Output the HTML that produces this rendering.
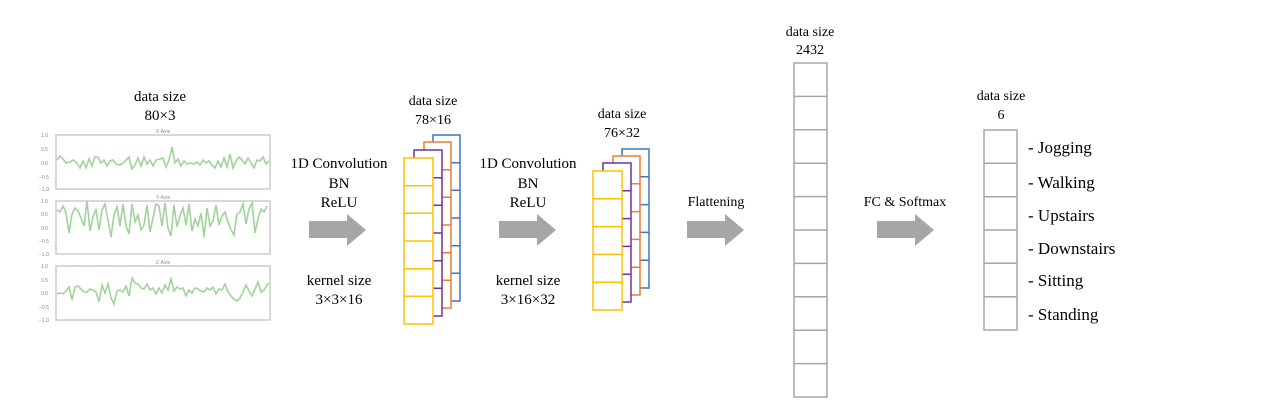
<!DOCTYPE html>
<html><head><meta charset="utf-8"><style>
html,body{margin:0;padding:0;background:#fff;}
svg{display:block;}
text{font-family:"Liberation Serif",serif;font-size:15px;fill:#000;}
.s{font-size:5px;fill:#888;font-family:"Liberation Sans",sans-serif;}
</style></head><body>
<svg width="1280" height="420" viewBox="0 0 1280 420" xmlns="http://www.w3.org/2000/svg">
<!-- input -->
<text x="160" y="101" text-anchor="middle">data size</text>
<text x="160" y="120" text-anchor="middle">80×3</text>
<g fill="none" stroke="#ccc" stroke-width="1.5">
<rect x="56" y="135" width="214" height="54"/>
<rect x="56" y="201" width="214" height="53"/>
<rect x="56" y="266" width="214" height="54"/>
</g>
<g class="s">
<text class="s" x="163" y="133" text-anchor="middle">X-Axis</text>
<text class="s" x="163" y="199" text-anchor="middle">Y-Axis</text>
<text class="s" x="163" y="264" text-anchor="middle">Z-Axis</text>
<text class="s" x="41" y="137">1.0</text><text class="s" x="41" y="151">0.5</text><text class="s" x="41" y="165">0.0</text><text class="s" x="39" y="179">−0.5</text><text class="s" x="39" y="191">−1.0</text>
<text class="s" x="41" y="203">1.0</text><text class="s" x="41" y="216">0.5</text><text class="s" x="41" y="230">0.0</text><text class="s" x="39" y="243">−0.5</text><text class="s" x="39" y="256">−1.0</text>
<text class="s" x="41" y="268">1.0</text><text class="s" x="41" y="282">0.5</text><text class="s" x="41" y="295">0.0</text><text class="s" x="39" y="309">−0.5</text><text class="s" x="39" y="322">−1.0</text>
</g>
<g fill="none" stroke="#9fd49a" stroke-width="1.6">
<polyline points="57,160 60,156 63,159 66,163 70,162 73,160 77,163 80,168 83,161 86,168 89,159 92,166 95,157 98,157 101,163 104,160 107,166 110,161 113,160 116,164 120,165 123,163 126,160 129,157 132,169 135,165 138,158 141,166 144,157 147,164 150,160 153,166 156,160 160,159 163,158 166,167 169,160 172,147 175,163 178,159 181,166 184,161 187,164 190,163 194,164 197,162 200,165 203,160 206,163 209,161 212,165 215,168 218,161 221,167 224,158 227,167 230,154 233,168 236,161 239,157 242,160 245,164 248,158 251,163 254,168 257,160 260,161 263,157 266,164 269,161"/>
<polyline points="57,210 60,212 63,206 66,213 69,233 72,214 75,208 78,211 81,218 84,226 87,201 90,231 93,217 96,209 99,230 102,210 105,204 108,220 111,237 114,215 117,207 120,226 123,204 126,226 129,234 132,204 135,222 138,215 141,230 144,225 147,205 150,232 153,218 156,204 159,206 162,226 165,203 168,228 171,236 174,205 177,227 180,216 183,208 186,225 189,204 192,231 195,219 198,226 201,213 204,237 207,208 210,226 213,221 216,205 219,225 222,216 225,212 228,222 231,230 234,235 237,214 240,212 243,204 246,224 249,209 252,203 255,233 258,219 261,209 264,212 267,206"/>
<polyline points="57,294 60,293 63,294 66,291 69,287 72,300 75,287 78,286 81,289 84,292 87,292 90,289 93,290 96,292 99,302 102,285 105,293 108,284 111,298 114,304 117,291 120,290 123,292 126,286 129,296 132,278 135,283 138,284 141,288 144,289 147,284 150,290 153,288 156,294 159,288 162,293 165,285 168,290 171,279 174,291 177,287 180,289 183,288 186,296 189,290 192,293 195,288 198,289 201,291 204,292 207,288 210,290 213,287 216,294 219,289 222,290 225,284 228,292 231,296 234,299 237,301 240,298 243,292 246,285 249,291 252,296 255,289 258,282 261,292 264,290 267,285 269,283"/>
</g>
<!-- arrows -->
<g fill="#a6a6a6">
<polygon points="309,221 347,221 347,214 366,230 347,246 347,238 309,238"/>
<polygon points="499,221 537,221 537,214 556,230 537,246 537,238 499,238"/>
<polygon points="687,221 725,221 725,214 744,230 725,246 725,238 687,238"/>
<polygon points="877,221 915,221 915,214 934,230 915,246 915,238 877,238"/>
</g>
<text x="339" y="168" text-anchor="middle">1D Convolution</text>
<text x="339" y="188" text-anchor="middle">BN</text>
<text x="339" y="207" text-anchor="middle">ReLU</text>
<text x="339" y="285" text-anchor="middle">kernel  size</text>
<text x="339" y="304" text-anchor="middle">3×3×16</text>
<text x="528" y="168" text-anchor="middle">1D Convolution</text>
<text x="528" y="188" text-anchor="middle">BN</text>
<text x="528" y="207" text-anchor="middle">ReLU</text>
<text x="528" y="285" text-anchor="middle">kernel  size</text>
<text x="528" y="304" text-anchor="middle">3×16×32</text>
<text x="716" y="206" text-anchor="middle" style="font-size:14px">Flattening</text>
<text x="905" y="206" text-anchor="middle" style="font-size:14px">FC &amp; Softmax</text>
<!-- stack 1 -->
<text x="433" y="105" text-anchor="middle" style="font-size:14px">data size</text>
<text x="433" y="124" text-anchor="middle" style="font-size:14px">78×16</text>
<g fill="#fff" stroke-width="1.5">
<g stroke="#4472c4"><rect x="433" y="135" width="27" height="166"/><path d="M433 162.7h27M433 190.3h27M433 218h27M433 245.7h27M433 273.3h27"/></g>
<g stroke="#ed7d31"><rect x="424" y="142" width="27" height="166"/><path d="M424 169.7h27M424 197.3h27M424 225h27M424 252.7h27M424 280.3h27"/></g>
<g stroke="#7030a0"><rect x="414" y="150" width="28" height="166"/><path d="M414 177.7h28M414 205.3h28M414 233h28M414 260.7h28M414 288.3h28"/></g>
<g stroke="#ffc000"><rect x="404" y="158" width="29" height="166"/><path d="M404 185.7h29M404 213.3h29M404 241h29M404 268.7h29M404 296.3h29"/></g>
</g>
<!-- stack 2 -->
<text x="622" y="118" text-anchor="middle" style="font-size:14px">data size</text>
<text x="622" y="137" text-anchor="middle" style="font-size:14px">76×32</text>
<g fill="#fff" stroke-width="1.5">
<g stroke="#4472c4"><rect x="622" y="149" width="27" height="139"/><path d="M622 176.8h27M622 204.6h27M622 232.4h27M622 260.2h27"/></g>
<g stroke="#ed7d31"><rect x="613" y="156" width="27" height="139"/><path d="M613 183.8h27M613 211.6h27M613 239.4h27M613 267.2h27"/></g>
<g stroke="#7030a0"><rect x="603" y="163" width="28" height="139"/><path d="M603 190.8h28M603 218.6h28M603 246.4h28M603 274.2h28"/></g>
<g stroke="#ffc000"><rect x="593" y="171" width="29" height="139"/><path d="M593 198.8h29M593 226.6h29M593 254.4h29M593 282.2h29"/></g>
</g>
<!-- flatten column -->
<text x="810" y="36" text-anchor="middle" style="font-size:14px">data size</text>
<text x="810" y="54" text-anchor="middle" style="font-size:14px">2432</text>
<g fill="none" stroke="#a6a6a6" stroke-width="1.5">
<rect x="794" y="63" width="33" height="334"/>
<path d="M794 96.4h33M794 129.8h33M794 163.2h33M794 196.6h33M794 230h33M794 263.4h33M794 296.8h33M794 330.2h33M794 363.6h33"/>
<rect x="984" y="130" width="33" height="200"/>
<path d="M984 163.3h33M984 196.7h33M984 230h33M984 263.3h33M984 296.7h33"/>
</g>
<text x="1001" y="100" text-anchor="middle" style="font-size:14px">data size</text>
<text x="1001" y="119" text-anchor="middle" style="font-size:14px">6</text>
<g style="font-size:17px">
<text x="1028" y="153" style="font-size:17px">-  Jogging</text>
<text x="1028" y="188" style="font-size:17px">-  Walking</text>
<text x="1028" y="221" style="font-size:17px">-  Upstairs</text>
<text x="1028" y="254" style="font-size:17px">-  Downstairs</text>
<text x="1028" y="286" style="font-size:17px">-  Sitting</text>
<text x="1028" y="320" style="font-size:17px">-  Standing</text>
</g>
</svg>
</body></html>
